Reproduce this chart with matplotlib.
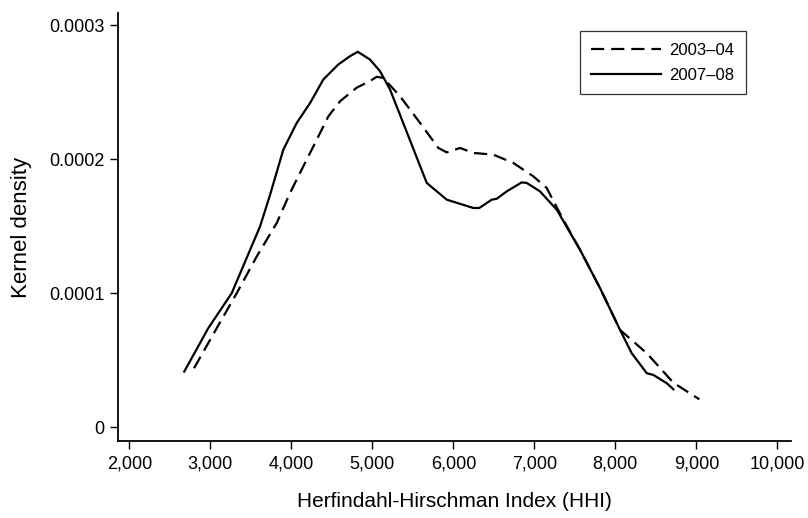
import matplotlib
matplotlib.use("Agg")
import matplotlib.pyplot as plt
from matplotlib.ticker import FuncFormatter

plt.rcParams['font.family'] = ['Liberation Sans', 'DejaVu Sans']
plt.rcParams['lines.scale_dashes'] = False

# 2003-04 (dashed)
hhi_0304 = [2799, 3079, 3326, 3573, 3820, 3984, 4148, 4314, 4457, 4602, 4807,
            4972, 5054, 5136, 5342, 5589, 5815, 5919, 6083, 6247, 6494, 6741,
            6988, 7153, 7358, 7564, 7811, 8058, 8388, 8716, 9037]
dens_0304 = [0.0000441, 0.0000740, 0.0001001, 0.0001275, 0.0001525, 0.0001749,
             0.0001948, 0.0002147, 0.0002321, 0.0002434, 0.0002535, 0.0002585,
             0.0002616, 0.0002608, 0.0002471, 0.0002272, 0.0002085, 0.0002052,
             0.0002085, 0.0002048, 0.0002035, 0.0001973, 0.0001873, 0.0001786,
             0.0001549, 0.0001325, 0.0001039, 0.0000727, 0.0000553, 0.0000333,
             0.0000209]

# 2007-08 (solid)
hhi_0708 = [2678, 2975, 3264, 3614, 3738, 3901, 4067, 4231, 4395, 4580, 4725,
            4820, 4971, 5095, 5219, 5672, 5919, 6247, 6321, 6474, 6536, 6659,
            6844, 6906, 7070, 7277, 7564, 7811, 8058, 8202, 8388, 8469, 8635,
            8716]
dens_0708 = [0.0000416, 0.0000740, 0.0001001, 0.0001499, 0.0001736, 0.0002072,
             0.0002272, 0.0002420, 0.0002596, 0.0002708, 0.0002770, 0.0002803,
             0.0002745, 0.0002658, 0.0002521, 0.0001824, 0.0001699, 0.0001637,
             0.0001637, 0.0001699, 0.0001706, 0.0001761, 0.0001828, 0.0001824,
             0.0001761, 0.0001624, 0.0001325, 0.0001039, 0.0000727, 0.0000553,
             0.0000404, 0.0000391, 0.0000329, 0.0000284]

xticks = [2000, 3000, 4000, 5000, 6000, 7000, 8000, 9000, 10000]
yticks = [0, 0.0001, 0.0002, 0.0003]
ytick_labels = ["0", "0.0001", "0.0002", "0.0003"]

fig = plt.figure(figsize=(8.08, 5.18), dpi=100)
ax = fig.add_axes([0.1464, 0.1492, 0.8322, 0.8251])

ax.plot(hhi_0304, dens_0304, color='black', lw=1.6, linestyle=(0, (9.5, 5)),
        label='2003\u201304')
ax.plot(hhi_0708, dens_0708, color='black', lw=1.6, label='2007\u201308')

ax.set_xlim(1864, 10165)
ax.set_ylim(-0.00001, 0.000309)
ax.set_xticks(xticks)
ax.xaxis.set_major_formatter(FuncFormatter(lambda v, p: f"{int(v):,}"))
ax.set_yticks(yticks)
ax.set_yticklabels(ytick_labels)

for s in ['top', 'right']:
    ax.spines[s].set_visible(False)
for s in ['left', 'bottom']:
    ax.spines[s].set_linewidth(1.3)

ax.tick_params(axis='both', direction='out', length=6, width=1, labelsize=13)
ax.tick_params(axis='x', pad=5)
ax.tick_params(axis='y', pad=4)

ax.set_xlabel("Herfindahl-Hirschman Index (HHI)", fontsize=15, labelpad=14)
ax.set_ylabel("Kernel density", fontsize=16, labelpad=12)

leg = ax.legend(loc='upper right', bbox_to_anchor=(0.9335, 0.9586),
                borderaxespad=0, fontsize=12, frameon=True, fancybox=False,
                edgecolor='black', handlelength=4.2, borderpad=0.7,
                labelspacing=0.6, handletextpad=0.48)
leg.get_frame().set_linewidth(0.9)

fig.savefig("out.png", dpi=100)
